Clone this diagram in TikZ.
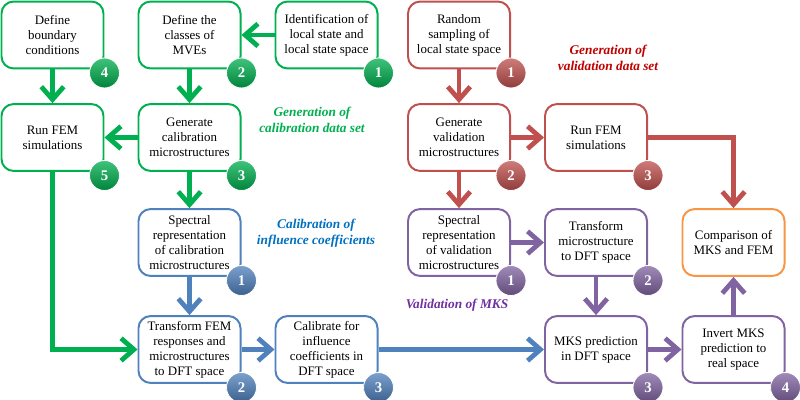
\documentclass[tikz,border=0pt]{standalone}
\usepackage{fontspec}
\setmainfont{Liberation Serif}
\usetikzlibrary{arrows.meta}
\definecolor{Migreen}{RGB}{0,176,80}
\definecolor{Mired}{RGB}{192,80,77}
\definecolor{Miblue}{RGB}{79,129,189}
\definecolor{Mipurple}{RGB}{128,100,162}
\definecolor{Miorange}{RGB}{247,150,70}
\definecolor{Mitred}{RGB}{192,0,0}
\definecolor{Mitblue}{RGB}{0,112,192}
\definecolor{Mitpurple}{RGB}{112,48,160}

\begin{document}
\begin{tikzpicture}[x=0.025cm,y=-0.025cm,
 box/.style={draw=#1,line width=1.4pt,rounded corners=0.3cm,fill=white,align=center,
  minimum width=2.55cm,minimum height=1.67cm,inner sep=1pt,font=\fontsize{9.2}{10.6}\selectfont},
 arr/.style={draw=#1,line width=3.4pt,-{Straight Barb[length=3.2mm,width=5.6mm]}},
 badge/.style={circle,draw=white,line width=0.6pt,top color=#1!75!white,bottom color=#1!75!black,
  minimum size=0.75cm,inner sep=0pt,text=white,font=\bfseries\fontsize{10.5}{11}\selectfont},
 lab/.style={align=center,font=\bfseries\itshape\fontsize{9.5}{11.5}\selectfont}]
\useasboundingbox (0,0) rectangle (800,400);

\node[box=Migreen] (bc) at (52.5,35) {Define\\boundary\\conditions};
\node[box=Migreen] (mve) at (189.5,35) {Define the\\classes of\\MVEs};
\node[box=Migreen] (ident) at (326.5,35) {Identification of\\local state and\\local state space};
\node[box=Migreen] (fem) at (52.5,137.5) {Run FEM\\simulations};
\node[box=Migreen] (gencal) at (189.5,137.5) {Generate\\calibration\\microstructures};

\node[box=Mired] (rand) at (459,35) {Random\\sampling of\\local state space};
\node[box=Mired] (genval) at (459,137.5) {Generate\\validation\\microstructures};
\node[box=Mired] (femval) at (596,137.5) {Run FEM\\simulations};

\node[box=Miblue] (speccal) at (189.5,242.5) {Spectral\\representation\\of calibration\\microstructures};
\node[box=Miblue] (trcal) at (189.5,349.5) {Transform FEM\\responses and\\microstructures\\to DFT space};
\node[box=Miblue] (calib) at (326.5,349.5) {Calibrate for\\influence\\coefficients in\\DFT space};

\node[box=Mipurple] (specval) at (459,242.5) {Spectral\\representation\\of validation\\microstructures};
\node[box=Mipurple] (trval) at (596,242.5) {Transform\\microstructure\\to DFT space};
\node[box=Mipurple] (pred) at (596,349.5) {MKS prediction\\in DFT space};
\node[box=Mipurple] (invert) at (733.5,349.5) {Invert MKS\\prediction to\\real space};
\node[box=Miorange] (comp) at (733.5,242.5) {Comparison of\\MKS and FEM};

\node[lab,text=Migreen] (calset) at (312,120) {Generation of\\calibration data set};
\node[lab,text=Mitred] (valset) at (608,58) {Generation of\\validation data set};
\node[lab,text=Mitblue] (infl) at (316,233) {Calibration of\\influence coefficients};
\node[lab,text=Mitpurple] (valmks) at (457,305) {Validation of MKS};

\draw[arr=Migreen] (ident) -- (mve);
\draw[arr=Migreen] (bc) -- (fem);
\draw[arr=Migreen] (mve) -- (gencal);
\draw[arr=Migreen] (gencal) -- (fem);
\draw[arr=Migreen] (gencal) -- (speccal);
\draw[arr=Migreen] (fem.south) |- (trcal.west);

\draw[arr=Mired] (rand) -- (genval);
\draw[arr=Mired] (genval) -- (femval);
\draw[arr=Mired] (genval) -- (specval);
\draw[arr=Mired] (femval.east) -| (comp.north);

\draw[arr=Miblue] (speccal) -- (trcal);
\draw[arr=Miblue] (trcal) -- (calib);
\draw[arr=Miblue] (calib) -- (pred);

\draw[arr=Mipurple] (specval) -- (trval);
\draw[arr=Mipurple] (trval) -- (pred);
\draw[arr=Mipurple] (pred) -- (invert);
\draw[arr=Mipurple] (invert) -- (comp);

\foreach \b/\c/\n in {bc/Migreen/4, mve/Migreen/2, ident/Migreen/1, fem/Migreen/5, gencal/Migreen/3,
  rand/Mired/1, genval/Mired/2, femval/Mired/3, speccal/Miblue/1, trcal/Miblue/2, calib/Miblue/3,
  specval/Mipurple/1, trval/Mipurple/2, pred/Mipurple/3, invert/Mipurple/4}
 \node[badge=\c] at ([yshift=-0.09cm]\b.south east) {\n};
\end{tikzpicture}
\end{document}
